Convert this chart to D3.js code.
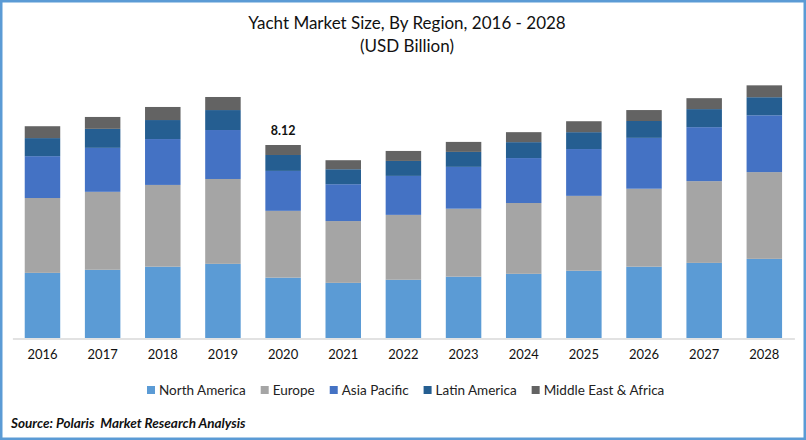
<!DOCTYPE html>
<html>
<head>
<meta charset="utf-8">
<script src="https://cdn.jsdelivr.net/npm/d3@7"></script>
<style>
  html, body { margin: 0; padding: 0; background: #fff; }
  svg { display: block; font-family: Lato, "Open Sans", sans-serif; }
</style>
</head>
<body>
<div id="chart"></div>
<script>
var years = ['2016', '2017', '2018', '2019', '2020', '2021', '2022', '2023', '2024', '2025', '2026', '2027', '2028'];
var regions = ['North America', 'Europe', 'Asia Pacific', 'Latin America', 'Middle East & Africa'];
var colors = ['#5b9bd5', '#a5a5a5', '#4472c4', '#255e91', '#636363'];

var northAmerica = [2.74, 2.87, 3.00, 3.12, 2.54, 2.32, 2.45, 2.58, 2.70, 2.83, 3.00, 3.16, 3.33];
var europe = [3.15, 3.28, 3.44, 3.57, 2.81, 2.60, 2.73, 2.86, 2.98, 3.15, 3.28, 3.44, 3.65];
var asiaPacific = [1.76, 1.85, 1.93, 2.06, 1.68, 1.55, 1.64, 1.76, 1.89, 1.97, 2.14, 2.27, 2.39];
var latinAmerica = [0.76, 0.80, 0.80, 0.84, 0.67, 0.63, 0.63, 0.63, 0.67, 0.71, 0.71, 0.76, 0.76];
var middleEast = [0.50, 0.50, 0.55, 0.55, 0.42, 0.38, 0.42, 0.42, 0.42, 0.46, 0.46, 0.46, 0.50];
var seriesValues = [northAmerica, europe, asiaPacific, latinAmerica, middleEast];

var labelledYear = '2020';
var labelledValue = '8.12';

var width = 806, height = 440;
var svg = d3.select('#chart').append('svg')
  .attr('width', width)
  .attr('height', height);

svg.append('rect')
  .attr('x', 1.25).attr('y', 1.25)
  .attr('width', width - 2.5).attr('height', height - 2.5)
  .attr('fill', '#fff')
  .attr('stroke', '#5b9bd5')
  .attr('stroke-width', 2.5);

var title = svg.append('text')
  .attr('text-anchor', 'middle')
  .attr('fill', '#111')
  .style('font-size', '17px');
title.append('tspan').attr('x', 407).attr('y', 29).text('Yacht Market Size, By Region, 2016 - 2028');
title.append('tspan').attr('x', 407).attr('y', 52).text('(USD Billion)');

// table rows for the stack, one per year
var rows = years.map(function (y, i) {
  var row = {year: y};
  regions.forEach(function (r, j) { row[r] = seriesValues[j][i]; });
  return row;
});
var stacked = d3.stack().keys(regions)(rows);

var x = d3.scaleBand().domain(years).range([12.4, 794.4]).paddingInner(0.41).paddingOuter(0.205);
// 2020 total of 8.12 spans 193px above the axis
var y = d3.scaleLinear().domain([0, 8.12]).range([338, 145]);

svg.append('g').selectAll('g').data(stacked)
  .enter()
  .append('g')
  .attr('fill', function (d, i) { return colors[i]; })
  .selectAll('rect').data(function (d) { return d; })
  .enter()
  .append('rect')
  .attr('x', function (d) { return x(d.data.year); })
  .attr('width', x.bandwidth())
  .attr('y', function (d) { return y(d[1]); })
  .attr('height', function (d) { return y(d[0]) - y(d[1]); });

var axis = svg.append('g')
  .attr('transform', 'translate(0,338.5)')
  .call(d3.axisBottom(x).tickSize(0).tickPadding(11));
axis.select('.domain').attr('stroke', '#d9d9d9').attr('stroke-width', 1.5);
axis.selectAll('text')
  .attr('fill', '#111')
  .style('font-family', 'Lato, "Open Sans", sans-serif')
  .style('font-size', '13px');

svg.append('text')
  .attr('x', x(labelledYear) + x.bandwidth() / 2)
  .attr('y', y(8.12) - 10)
  .attr('text-anchor', 'middle')
  .attr('fill', '#111')
  .style('font-size', '12.5px')
  .style('font-weight', 'bold')
  .text(labelledValue);

// legend: lay out one after the other from measured label widths
var legendX = 147;
var legend = svg.append('g');
regions.forEach(function (r, i) {
  legend.append('rect')
    .attr('x', legendX).attr('y', 386)
    .attr('width', 8).attr('height', 8)
    .attr('fill', colors[i]);
  var label = legend.append('text')
    .attr('x', legendX + 12).attr('y', 395)
    .attr('fill', '#222')
    .style('font-size', '13.5px')
    .text(r);
  legendX += 12 + label.node().getComputedTextLength() + 15;
});

svg.append('text')
  .attr('x', 11).attr('y', 428)
  .attr('fill', '#111')
  .style('font-size', '13.5px')
  .style('font-weight', 'bold')
  .style('font-style', 'italic')
  .style('white-space', 'pre')
  .text('Source: Polaris  Market Research Analysis');
</script>
</body>
</html>
